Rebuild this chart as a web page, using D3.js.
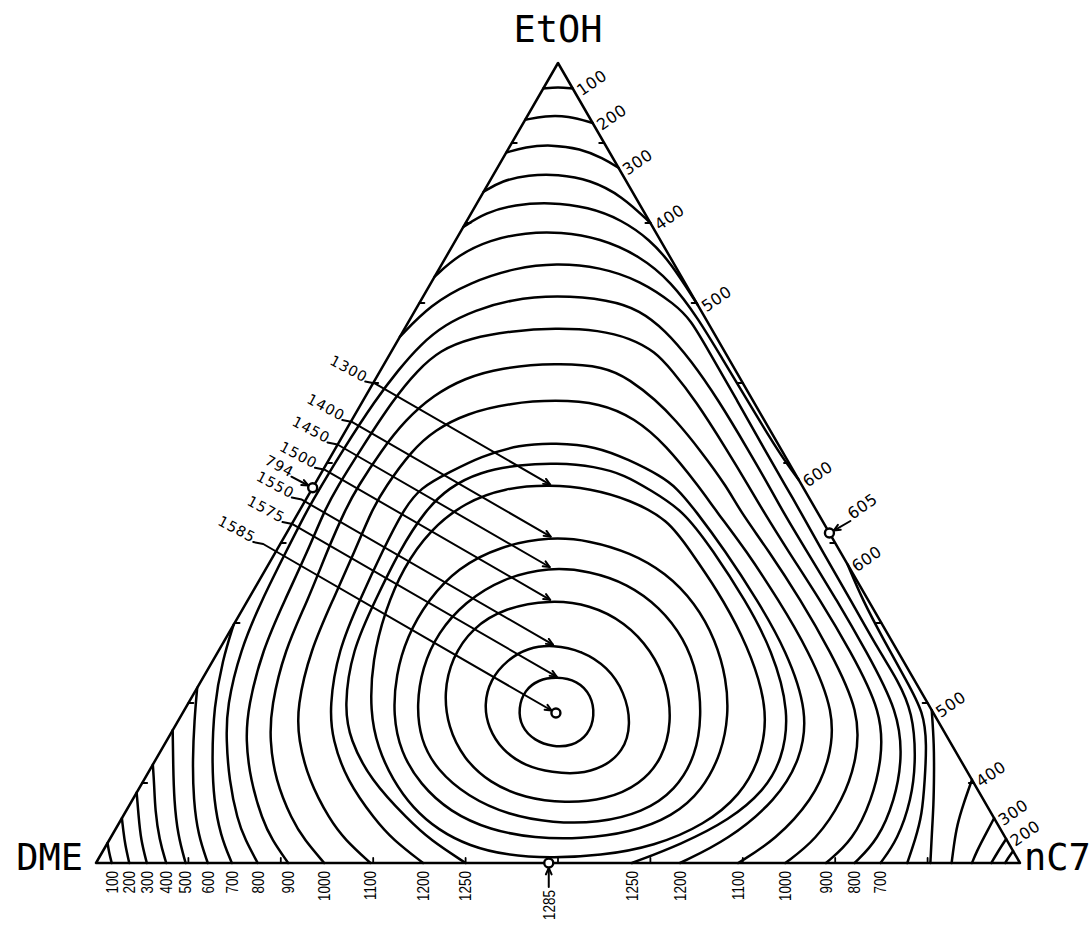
<!DOCTYPE html>
<html><head><meta charset="utf-8">
<script src="https://cdn.jsdelivr.net/npm/d3@7"></script>
<style>
html,body{margin:0;padding:0;background:#fff;}
svg{display:block;}
</style></head>
<body>
<svg id="chart" width="1090" height="925"></svg>
<script>
// ===== DATA (compositions in percent: [EtOH, nC7]; DME = 100 - EtOH - nC7) =====
const axisNames = ["EtOH", "DME", "nC7"];

// contour arcs cutting the EtOH corner (left edge -> right edge)
const topArcs = [
  {level:100, pts:[[96.8,0],[97,1.5],[96.8,3.2]]},
  {level:200, pts:[[92.9,0],[93.4,1.9],[93.4,4.4],[92.5,7.5]]},
  {level:300, pts:[[88.8,0],[89.5,1.7],[89.8,4.3],[89.3,7.8],[88.1,10.8],[86.9,13.1]]},
  {level:400, pts:[[83.9,0],[85.3,1.3],[86,3.8],[86.1,6.9],[85.4,10.8],[83.4,15.2],[80,20]]},
  {level:500, pts:[[79.5,0],[81.3,1.5],[82.3,4.2],[82.6,7.8],[82,12.3],[80.4,16.7],[77.9,21],[75.1,24.6],[69.8,30.2]]},
  {level:600, pts:[[73.3,0],[76,1.2],[77.9,3.7],[78.8,7.1],[78.9,10.8],[78.1,15.5],[75.9,20.9],[72.6,26],[68.1,31.1],[63.1,36.2],[58.1,41.3],[53.3,46.2],[50,49.7],[47.9,52.1]]}
];

// contour arcs cutting the DME corner (bottom edge -> left edge)
const dmeArcs = [
  {level:100, pts:[[0,1.7],[1.4,0.7],[2.5,0]]},
  {level:200, pts:[[0,3.6],[2.3,2],[4.1,0.9],[5.6,0]]},
  {level:300, pts:[[0,5.5],[2.9,3.4],[6,1.6],[8.8,0]]},
  {level:400, pts:[[0,7.6],[2.9,5.4],[6.6,3.1],[9.8,1.4],[12.3,0]]},
  {level:500, pts:[[0,9.7],[3.5,7.1],[7.9,4.5],[12.3,2.2],[16.6,0]]},
  {level:600, pts:[[0,12.1],[3.5,9.3],[7.9,6.6],[12.9,4],[17.9,1.7],[21.9,0]]},
  {level:700, pts:[[0,14.7],[3.5,11.7],[7.9,8.8],[12.9,6.1],[19.5,3],[25.4,1],[29.8,0]]}
];

// contour arcs cutting the nC7 corner (right edge -> bottom edge)
const nc7Arcs = [
  {level:600, pts:[[37.3,62.7],[32.9,66.5],[27.9,71.3],[22.9,76.2],[18.8,80.2],[14.8,82.5],[10.4,84.5],[6,86.4],[2.9,87.2],[0,87.8]]},
  {level:500, pts:[[19.1,80.9],[14.8,83.3],[11,85.2],[7.3,87],[3.5,88.7],[0,90.3]]},
  {level:400, pts:[[10.4,89.6],[7.3,90.2],[4.8,90.8],[2.3,91.7],[0,92.6]]},
  {level:300, pts:[[5.6,94.4],[3.1,94.5],[1.4,94.6],[0,94.8]]},
  {level:200, pts:[[3,97],[1.5,96.9],[0,96.9]]},
  {level:100, pts:[[1.5,98.5],[0.6,98.4],[0,98.4]]}
];

// large open contours
const openContours = [
  {level:700, pts:[[65.8,0],[69.8,1.3],[72.6,4.2],[74.4,8.2],[75,12.3],[74.5,17.3],[72.8,22.5],[69.8,27.8],[67.9,30.4],[64.1,34.2],[57.9,40.4],[51.6,46.6],[46.9,51.3],[44.1,54.1],[39.1,59],[32.9,65.2],[26.6,71.4],[22.9,75.3],[18.8,79],[12.9,82.3],[7.9,84.3],[2.9,85.3],[0,84.9]]},
  {level:800, pts:[[0,17.5],[2.9,14.7],[5.4,12.6],[10.4,9.2],[15.4,6.4],[19.5,4.4],[26.6,2.3],[32.9,1.5],[39.1,1.1],[44.1,0.8],[46.9,0.8],[51.6,0.9],[57.9,1.3],[61.6,1.9],[64.8,2.7],[67.3,4.1],[69.1,6.5],[70.4,9.6],[71,14.3],[70.4,20.4],[69.1,24.3],[66.6,28.3],[62.9,32.9],[57.9,38.4],[51.6,44.8],[46.9,49.5],[44.1,52.2],[39.1,57.3],[32.9,63.7],[26.6,70],[18.8,77.5],[12.9,80.8],[7.9,82.5],[2.9,83.2],[0,82.1]]},
  {level:900, pts:[[0,20.8],[2.9,17.6],[5.4,15.3],[10.4,11.5],[15.4,8.5],[19.5,6.7],[26.6,4.7],[32.9,4],[39.1,3.4],[44.1,2.7],[46.9,2.6],[51.6,2.8],[57.9,3.2],[61.6,4],[64.1,5.2],[65.6,7.7],[66.5,11.6],[66.9,16.3],[66.6,21.2],[65.6,25],[63.9,28.6],[61.6,31.5],[57.9,35.9],[51.6,42.5],[46.9,47.3],[44.1,50.1],[39.1,55.3],[32.9,61.9],[26.6,68.3],[18.8,75.7],[12.9,78.6],[7.9,80],[2.9,80.5],[0,79]]},
  {level:1000, pts:[[0,24.7],[2.9,21.1],[5.4,18.5],[10.4,14.2],[15.4,11.1],[19.5,9.2],[26.6,7.1],[32.9,6.5],[39.1,5.5],[44.1,4.9],[46.9,4.8],[51.6,5.1],[55.4,5.8],[58.5,7.3],[60.6,9.6],[61.9,12.8],[62.5,18.5],[62.1,24],[60.4,27.6],[57.9,31.6],[55.4,35],[51.6,39.6],[46.9,44.9],[44.1,47.6],[39.1,53.2],[32.9,59.8],[26.6,66.1],[18.8,73.3],[12.9,75.9],[7.9,76.9],[2.9,76.5],[0,74.6]]},
  {level:1100, pts:[[0,29.7],[2.9,25.5],[5.4,22.6],[10.4,17.8],[15.4,14.2],[19.5,12],[26.6,9.9],[32.9,9.2],[39.1,8.5],[44.1,7.8],[46.9,7.8],[51.6,8.4],[54.1,9.6],[56.2,12],[57.5,16.1],[57.9,20.8],[57.5,25.8],[55.6,30.5],[52.3,35.5],[46.9,41.9],[44.1,45],[39.1,50.8],[32.9,57.4],[26.6,63.8],[18.8,70.6],[12.9,73],[7.9,73.6],[2.9,72.1],[0,69.5]]},
  {level:1200, pts:[[0,35.4],[2.9,30.7],[5.4,27.5],[10.4,21.9],[15.4,17.9],[19.5,15.5],[26.6,12.9],[32.9,12.1],[39.1,11.5],[44.1,11.2],[46.9,11.6],[48.9,13.9],[50.8,16.2],[52.3,19.7],[52.5,23.5],[52.1,28],[50.4,32.5],[48.4,36.9],[46.9,39.4],[44.1,42.8],[39.1,48.5],[32.9,55.1],[26.6,61.4],[18.8,67.7],[12.9,69.8],[7.9,69.7],[2.9,67],[0,63.2]]},
  {level:1250, pts:[[0,40],[2.9,34.7],[5.4,31.1],[10.4,24.5],[15.4,19.8],[19.5,17.1],[26.6,14.4],[32.9,13.8],[39.1,13.3],[44.1,13.6],[46.9,14.7],[48.9,17.1],[49.8,21],[50,24.8],[49.6,29.2],[48.5,33],[46.6,36.7],[44.1,41.5],[39.1,47.2],[32.9,53.8],[26.6,59.9],[18.8,65.7],[12.9,67.8],[9.1,67.8],[5.4,65.9],[2.3,62.1],[0,58]]}
];

// closed contours around the maximum (first point = top of loop)
const loops = [
  {level:1300, pts:[[47.3,25.5],[46.8,30.1],[45.4,35.1],[42.9,40.5],[39.1,44.7],[34.1,50.2],[28.5,55.7],[22.9,60.4],[17.9,63.7],[12.9,65.4],[8.5,65.5],[4.8,63.5],[2.1,59.4],[0.9,54.1],[0.6,48.8],[1,43.8],[2.1,39.4],[4.1,35],[6.9,30.8],[10.4,26.9],[14.4,23.3],[18.9,20.2],[25.4,17.2],[31.6,15.5],[36.9,14.8],[41.6,15.3],[45.1,17.4],[46.9,20.8]]},
  {level:1400, pts:[[40.8,28.8],[40.3,33.3],[38.8,38.4],[36.3,43.5],[32.5,48.6],[27.9,53.1],[22.9,56.8],[18.5,59.2],[13.9,60.8],[9.1,61.1],[5.8,59.5],[3.8,55.9],[3,50.9],[3.1,46],[4.1,40.6],[6.4,35.1],[9.8,30.2],[13.9,26],[18.5,22.9],[23.5,20.7],[28.3,19.5],[32.9,19.5],[36.9,20.7],[39.6,23.9]]},
  {level:1450, pts:[[37,30.6],[36.5,35.2],[34.9,40.1],[32,45],[28.1,49.6],[23.5,53.4],[18.5,56.3],[13.5,58.2],[9.1,58.2],[6.3,56],[5,51.8],[5,47],[6,41.6],[8.3,36.1],[11.6,31.1],[15.4,27.4],[19.8,24.8],[24.4,23.1],[28.8,22.6],[32.6,23.6],[35.6,26.2]]},
  {level:1500, pts:[[32.9,32.7],[32.3,37.3],[30.1,42.2],[26.6,46.8],[22.3,50.7],[17.6,53.5],[13.1,54.8],[9.8,54],[7.9,51.2],[7.5,47],[8.1,42.4],[10,37.6],[13.1,33.2],[17,29.6],[21.3,27],[25.6,25.7],[29.4,26],[31.9,28.3]]},
  {level:1550, pts:[[27.3,35.8],[26.5,39.4],[24.5,43.1],[21.4,46.5],[17.3,49.3],[13.9,50.1],[11.9,48.9],[11.1,46.6],[11.3,43.8],[12.1,40.4],[14.1,36.9],[16.9,34],[19.8,32.1],[22.9,31.2],[25.4,31.8],[26.9,33.3]]},
  {level:1575, pts:[[23.3,38.2],[22.8,40.7],[21,43.1],[18.4,44.8],[16,45.3],[14.6,44.2],[14.5,42.2],[15.3,39.8],[17,37.5],[19.4,36],[21.6,35.6],[22.9,36.4]]}
];

// marked extrema: overall maximum and the maxima along the three binary edges
const extremaValues = [1585, 794, 605, 1285];
const extremaPoints = [[18.75,40.4],[46.9,0],[41.25,58.75],[0,49]];

// axis ticks every 10 %
const tickPercents = [10,20,30,40,50,60,70,80,90];

// ===== LAYOUT =====
const W = 1090, H = 925;
const xs = d3.scaleLinear().domain([0,100]).range([96,1020]);
const ys = d3.scaleLinear().domain([0,100]).range([863,63]);
const P = d => [xs(d[1] + d[0]/2), ys(d[0])];
const STROKE = 2.5;
const leaderLen = {1300:202, 1400:229, 1450:245, 1500:260, 1550:290, 1575:305, 1585:338};

const svg = d3.select("#chart");
svg.append("rect").attr("width",W).attr("height",H).attr("fill","#fff");
const g = svg.append("g");

const lineOpen = d3.line().x(d=>P(d)[0]).y(d=>P(d)[1]).curve(d3.curveBasis);
const lineClosed = d3.line().x(d=>P(d)[0]).y(d=>P(d)[1]).curve(d3.curveBasisClosed);

function stroke(sel, w){ return sel.attr("fill","none").attr("stroke","#000").attr("stroke-width",w||STROKE).attr("stroke-linejoin","round").attr("stroke-linecap","round"); }

// contours
[topArcs, dmeArcs, nc7Arcs, openContours].forEach(list => {
  list.forEach(c => stroke(g.append("path").attr("d", lineOpen(c.pts))));
});
loops.forEach(c => stroke(g.append("path").attr("d", lineClosed(c.pts))));

// triangle
const tri = [[0,0],[0,100],[100,0]].map(P);
stroke(g.append("path").attr("d", "M"+tri.map(p=>p.join(",")).join("L")+"Z"), 2.5);

// ticks
tickPercents.forEach(t => {
  let p = P([t,0]);
  stroke(g.append("line").attr("x1",p[0]).attr("y1",p[1]).attr("x2",p[0]+5).attr("y2",p[1]), 1.8);
  p = P([t,100-t]);
  stroke(g.append("line").attr("x1",p[0]).attr("y1",p[1]).attr("x2",p[0]-5).attr("y2",p[1]), 1.8);
  p = P([0,t]);
  stroke(g.append("line").attr("x1",p[0]).attr("y1",p[1]).attr("x2",p[0]).attr("y2",p[1]-5), 1.8);
});

function chevron(tip, ang){
  const L = 7, a = 0.42;
  const p1 = [tip[0] - L*Math.cos(ang - a), tip[1] - L*Math.sin(ang - a)];
  const p2 = [tip[0] - L*Math.cos(ang + a), tip[1] - L*Math.sin(ang + a)];
  stroke(g.append("path").attr("d", `M${p1}L${tip}L${p2}`), 2);
}

// axis titles
const titleFont = "'DejaVu Sans Mono', monospace";
const tEt = P([100,0]);
g.append("text").attr("x", tEt[0]).attr("y", 42).attr("text-anchor","middle")
  .attr("font-family", titleFont).attr("font-size", 37).text(axisNames[0]);
const tD = P([0,0]);
g.append("text").attr("x", tD[0]-13).attr("y", tD[1]+7).attr("text-anchor","end")
  .attr("font-family", titleFont).attr("font-size", 37).text(axisNames[1]);
const tN = P([0,100]);
g.append("text").attr("x", tN[0]+4).attr("y", tN[1]+7).attr("text-anchor","start")
  .attr("font-family", titleFont).attr("font-size", 37).text(axisNames[2]);

// bottom labels (contour ends on the DME-nC7 edge)
const bottomFont = "'Liberation Sans', 'Arial', sans-serif";
function bottomLabel(pt, txt, y0){
  const p = P(pt);
  g.append("text").attr("transform", `translate(${p[0]+5.8},${y0||871}) rotate(-90) scale(0.84,1)`)
    .attr("text-anchor","end").attr("font-family", bottomFont).attr("font-size", 16).text(txt);
}
dmeArcs.forEach(c => bottomLabel(c.pts[0], c.level));
openContours.forEach(c => {
  const a = c.pts[0], b = c.pts[c.pts.length-1];
  if (a[0] === 0) bottomLabel(a, c.level);
  if (b[0] === 0) bottomLabel(b, c.level);
});

// right-edge labels (contour ends on the EtOH-nC7 edge)
const smallFont = "'DejaVu Sans', sans-serif";
function edgeLabel(pt, txt){
  const p = P(pt);
  g.append("text").attr("transform", `translate(${p[0]+9},${p[1]+8}) rotate(-35)`)
    .attr("text-anchor","start").attr("font-family", smallFont).attr("font-size", 16)
    .attr("letter-spacing", 0.6).text(txt);
}
topArcs.forEach(c => edgeLabel(c.pts[c.pts.length-1], c.level));
nc7Arcs.filter(c => c.level > 100).forEach(c => edgeLabel(c.pts[0], c.level));

// leaders to closed contours and maximum
const ang = Math.PI/6;
const targets = loops.map(c => ({v:c.level, p:P(c.pts[0]), r:0}))
  .concat([{v:extremaValues[0], p:P(extremaPoints[0]), r:5}]);
targets.forEach(t => {
  const len = leaderLen[t.v];
  const S = [t.p[0] - len*Math.cos(ang), t.p[1] - len*Math.sin(ang)];
  const Pl = [S[0]-10, S[1]-2];
  const tip = [t.p[0] - t.r*Math.cos(ang), t.p[1] - t.r*Math.sin(ang)];
  stroke(g.append("path").attr("d", `M${Pl}L${S}L${tip}`), 2);
  chevron(tip, ang);
  g.append("text").attr("transform", `translate(${Pl[0]-1},${Pl[1]+1}) rotate(28)`)
    .attr("text-anchor","end").attr("font-family", smallFont).attr("font-size", 14.5)
    .attr("letter-spacing", 0.8).text(t.v);
});

// 794 on the DME-EtOH edge
(function(){
  const c = P(extremaPoints[1]);
  const a = 0.48;
  const S = [c[0] - 24*Math.cos(a), c[1] - 24*Math.sin(a)];
  const tip = [c[0] - 5*Math.cos(a), c[1] - 5*Math.sin(a)];
  stroke(g.append("path").attr("d", `M${S}L${tip}`), 2);
  chevron(tip, a);
  g.append("text").attr("transform", `translate(${S[0]-1},${S[1]+1}) rotate(28)`)
    .attr("text-anchor","end").attr("font-family", smallFont).attr("font-size", 14.5)
    .attr("letter-spacing", 0.8).text(extremaValues[1]);
})();

// 605 on the EtOH-nC7 edge
(function(){
  const c = P(extremaPoints[2]);
  const S = [c[0]+21, c[1]-12];
  const a = Math.atan2(c[1]-S[1], c[0]-S[0]);
  const tip = [c[0] - 5*Math.cos(a), c[1] - 5*Math.sin(a)];
  stroke(g.append("path").attr("d", `M${S}L${tip}`), 2);
  chevron(tip, a);
  g.append("text").attr("transform", `translate(${S[0]+2},${S[1]-1}) rotate(-35)`)
    .attr("text-anchor","start").attr("font-family", smallFont).attr("font-size", 16)
    .attr("letter-spacing", 0.6).text(extremaValues[2]);
})();

// 1285 on the DME-nC7 edge
(function(){
  const c = P(extremaPoints[3]);
  const tip = [c[0], c[1]+5];
  stroke(g.append("path").attr("d", `M${[c[0], c[1]+24]}L${tip}`), 2);
  chevron(tip, -Math.PI/2);
  bottomLabel(extremaPoints[3], extremaValues[3], c[1]+27);
})();

// extrema markers
extremaPoints.forEach(pt => {
  const p = P(pt);
  g.append("circle").attr("cx",p[0]).attr("cy",p[1]).attr("r",4.5)
    .attr("fill","#fff").attr("stroke","#000").attr("stroke-width",2.4);
});
</script>
</body></html>
